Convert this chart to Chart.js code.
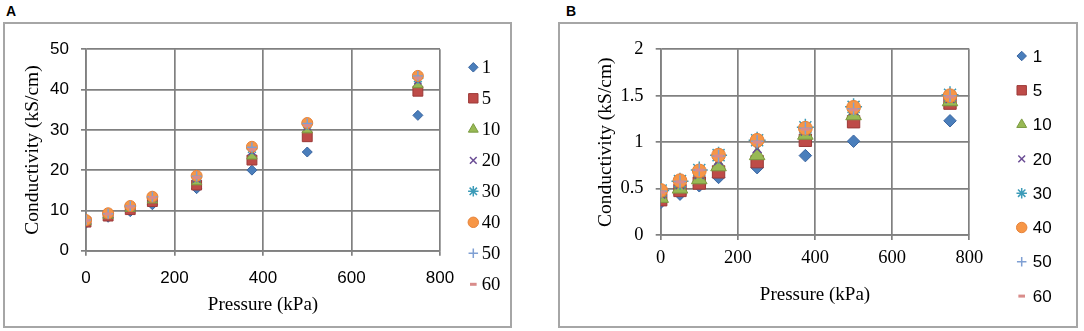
<!DOCTYPE html>
<html>
<head>
<meta charset="utf-8">
<script src="https://cdn.jsdelivr.net/npm/chart.js@4"></script>
<style>
  body { margin: 0; background: #fff; width: 1084px; height: 331px; position: relative; overflow: hidden; }
  .box { position: absolute; border: 2px solid #a6a6a6; box-sizing: border-box; }
  canvas { position: absolute; }
  .tag { position: absolute; font: bold 14px "Liberation Sans", Arial, sans-serif; color: #000; }
</style>
</head>
<body>
<div class="tag" style="left:6px;top:3px">A</div>
<div class="tag" style="left:566px;top:3px">B</div>
<div class="box" style="left:3px;top:22px;width:509px;height:306px"></div>
<div class="box" style="left:558px;top:22px;width:520px;height:306px"></div>
<canvas id="chartA" width="508" height="305" style="left:3px;top:22px"></canvas>
<canvas id="chartB" width="519" height="305" style="left:558px;top:22px"></canvas>
<script>
// pressure (kPa) on x, one series per legend entry
const pressure = [0, 50, 100, 150, 250, 375, 500, 750];
const seriesNames = ["1", "5", "10", "20", "30", "40", "50", "60"];

// panel A, conductivity (kS/cm)
const condA1  = [6.8, 8.3, 9.7, 11.4, 15.4, 20.0, 24.5, 33.6];
const condA5  = [7.1, 8.6, 10.2, 12.2, 16.3, 22.5, 28.3, 39.6];
const condA10 = [7.2, 8.8, 10.5, 12.6, 17.1, 23.5, 30.0, 41.2];
const condA20 = [7.4, 9.0, 10.8, 13.0, 17.8, 24.6, 30.8, 42.2];
const condA30 = [7.6, 9.2, 11.0, 13.3, 18.3, 25.3, 31.4, 42.8];
const condA40 = [7.6, 9.3, 11.1, 13.4, 18.6, 25.8, 31.7, 43.4];
const condA50 = [7.6, 9.2, 11.1, 13.4, 18.5, 25.7, 31.6, 43.4];
const condA60 = [7.5, 9.1, 10.9, 13.2, 18.2, 25.1, 31.1, 42.9];

// panel B, conductivity (kS/cm)
const condB1  = [0.35, 0.44, 0.53, 0.62, 0.725, 0.855, 1.01, 1.23];
const condB5  = [0.38, 0.48, 0.56, 0.68, 0.79, 1.02, 1.22, 1.42];
const condB10 = [0.40, 0.50, 0.60, 0.74, 0.86, 1.08, 1.29, 1.44];
const condB20 = [0.44, 0.54, 0.65, 0.80, 0.93, 1.12, 1.34, 1.47];
const condB30 = [0.48, 0.58, 0.70, 0.86, 1.02, 1.16, 1.38, 1.51];
const condB40 = [0.48, 0.585, 0.69, 0.86, 1.02, 1.15, 1.375, 1.50];
const condB50 = [0.47, 0.575, 0.70, 0.85, 1.01, 1.15, 1.36, 1.50];
const condB60 = [0.46, 0.57, 0.70, 0.85, 1.00, 1.14, 1.35, 1.49];

const ticksA = [0, 10, 20, 30, 40, 50];
const ticksB = [0, 0.5, 1, 1.5, 2];
const ticksX = [0, 200, 400, 600, 800];

// excel-ish marker look for each series
const markers = [
  { style: "rectRot",  r: 5,   fill: "#4a7ebb", line: "#3a65a0", w: 1 },
  { style: "rect",     r: 7,   fill: "#be4b48", line: "#9c3a38", w: 1 },
  { style: "triangle", r: 6,   fill: "#98b954", line: "#7a9a40", w: 1 },
  { style: "crossRot", r: 5,   fill: "#7d5fa0", line: "#6a4c94", w: 1.5 },
  { style: "star",     r: 5.5, fill: "#4bacc6", line: "#3c9bb8", w: 1.5 },
  { style: "circle",   r: 5.5, fill: "#f79646", line: "#e5823a", w: 1 },
  { style: "cross",    r: 5,   fill: "#8eaadb", line: "#7f9fd3", w: 1.5 },
  { style: "line",     r: 3.5, fill: "#e09896", line: "#d98c8a", w: 3 }
];

const sideLegend = {
  id: "sideLegend",
  afterDraw(chart, args, opts) {
    const ctx = chart.ctx;
    ctx.save();
    chart.data.datasets.forEach((ds, i) => {
      const y = opts.y0 + i * opts.dy;
      ctx.fillStyle = ds.backgroundColor;
      ctx.strokeStyle = ds.borderColor;
      ctx.lineWidth = ds.borderWidth;
      Chart.helpers.drawPoint(ctx, {
        pointStyle: ds.pointStyle,
        radius: markers[i].r * opts.scale,
        borderWidth: ds.borderWidth,
        rotation: 0
      }, opts.x, y);
      ctx.fillStyle = "#000";
      ctx.font = opts.font;
      ctx.textAlign = "left";
      ctx.textBaseline = "middle";
      ctx.fillText(ds.label, opts.tx, y + 1);
    });
    ctx.restore();
  }
};

function makeSets(values, k, bigger) {
  return values.map((vals, i) => ({
    label: seriesNames[i],
    data: pressure.map((p, j) => ({ x: p, y: vals[j] })),
    pointStyle: markers[i].style,
    pointRadius: bigger[markers[i].style] || markers[i].r * k,
    backgroundColor: markers[i].fill,
    borderColor: markers[i].line,
    borderWidth: markers[i].w,
    order: values.length - 1 - i
  }));
}

function drawPanel(id, cfg) {
  const gridStyle = { color: "#808080", lineWidth: 1.7, tickLength: 5 };
  const borderStyle = { color: "#808080", width: 1.7 };
  return new Chart(document.getElementById(id), {
    type: "scatter",
    data: { datasets: makeSets(cfg.values, cfg.k, cfg.bigger) },
    options: {
      responsive: false,
      animation: false,
      events: [],
      layout: { padding: cfg.pad },
      plugins: {
        legend: { display: false },
        tooltip: { enabled: false },
        sideLegend: cfg.legend
      },
      scales: {
        x: {
          type: "linear", min: 0, max: 800,
          afterBuildTicks: s => { s.ticks = ticksX.map(v => ({ value: v })); },
          grid: gridStyle, border: borderStyle,
          ticks: { color: "#000", font: cfg.xTickFont, padding: cfg.xTickPad, maxRotation: 0,
                   callback: v => String(v) },
          title: { display: true, text: "Pressure (kPa)", color: "#000",
                   font: { family: "Liberation Serif", size: 19 }, padding: { top: 0, bottom: cfg.xTitlePad } },
          afterFit: s => { s.height = cfg.xH; }
        },
        y: {
          type: "linear", min: 0, max: cfg.yMax,
          afterBuildTicks: s => { s.ticks = cfg.yTicks.map(v => ({ value: v })); },
          grid: gridStyle, border: borderStyle,
          ticks: { color: "#000", font: cfg.yTickFont, padding: cfg.yTickPad,
                   callback: v => String(v) },
          title: { display: true, text: "Conductivity (kS/cm)", color: "#000",
                   font: { family: "Liberation Serif", size: 19.5 }, padding: { top: cfg.yTitlePad, bottom: 0 } },
          afterFit: s => { s.width = cfg.yW; }
        }
      }
    },
    plugins: [sideLegend]
  });
}

drawPanel("chartA", {
  values: [condA1, condA5, condA10, condA20, condA30, condA40, condA50, condA60],
  k: 1, bigger: { star: 5.5 },
  yMax: 50, yTicks: ticksA,
  pad: { top: 27.3, right: 71, bottom: 0, left: 0 },
  xH: 76.3, yW: 83,
  xTickFont: { family: "Liberation Sans", size: 17 },
  yTickFont: { family: "Liberation Sans", size: 17 },
  xTickPad: 12, yTickPad: 12,
  xTitlePad: 11, yTitlePad: 18,
  legend: { x: 470.3, tx: 478.7, y0: 45.3, dy: 31, scale: 0.95,
            font: "18.7px 'Liberation Serif'" }
});

drawPanel("chartB", {
  values: [condB1, condB5, condB10, condB20, condB30, condB40, condB50, condB60],
  k: 1.25, bigger: { star: 8.5, triangle: 9 },
  yMax: 2, yTicks: ticksB,
  pad: { top: 27.3, right: 107.7, bottom: 0, left: 0 },
  xH: 92, yW: 102.7,
  xTickFont: { family: "Liberation Serif", size: 18.5 },
  yTickFont: { family: "Liberation Serif", size: 18.5 },
  xTickPad: 7.5, yTickPad: 12.2,
  xTitlePad: 20.5, yTitlePad: 36.6,
  legend: { x: 463.7, tx: 474.7, y0: 34, dy: 34.3, scale: 0.95,
            font: "17px 'Liberation Sans'" }
});
</script>
</body>
</html>
